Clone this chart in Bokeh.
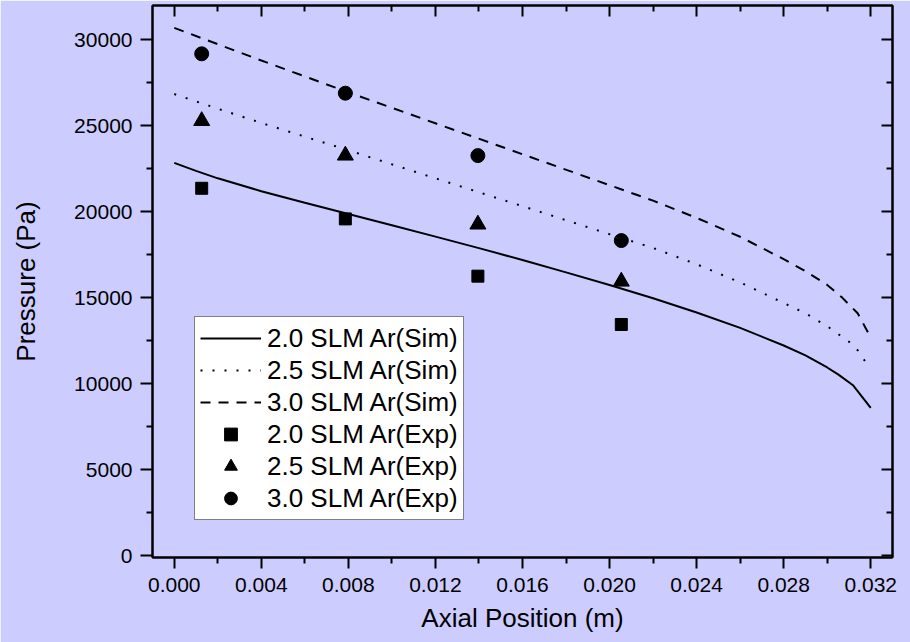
from bokeh.plotting import figure
from bokeh.models import (LinearAxis, FixedTicker, NumeralTickFormatter, Range1d,
                          Legend, LegendItem, CustomLabelingPolicy)
from bokeh.embed import file_html
from bokeh.resources import INLINE

# Simulated axial pressure profiles (m, Pa)
x_sim_20 = [0.0, 0.001, 0.002, 0.004, 0.006, 0.008, 0.010, 0.012, 0.014, 0.016, 0.018,
            0.020, 0.022, 0.024, 0.026, 0.028, 0.029, 0.030, 0.0305, 0.0312, 0.032]
p_sim_20 = [22850, 22380, 21950, 21200, 20530, 19870, 19220, 18560, 17890, 17200, 16480,
            15750, 14980, 14150, 13250, 12230, 11650, 10950, 10550, 9900, 8600]

x_sim_25 = [0.0, 0.002, 0.004, 0.008, 0.012, 0.016, 0.020, 0.022, 0.024, 0.026, 0.028,
            0.029, 0.030, 0.031, 0.0314, 0.0318]
p_sim_25 = [26850, 26000, 25170, 23580, 21950, 20330, 18700, 17900, 16950, 15900, 14700,
            14100, 13350, 12450, 11950, 11200]

x_sim_30 = [0.0, 0.002, 0.004, 0.008, 0.012, 0.016, 0.020, 0.022, 0.024, 0.026, 0.028,
            0.029, 0.030, 0.0307, 0.0314, 0.032]
p_sim_30 = [30700, 29750, 28800, 26950, 25150, 23350, 21550, 20650, 19650, 18550, 17250,
            16550, 15750, 15000, 14100, 12700]

# Measured pressures
x_exp = [0.00126, 0.00786, 0.01395, 0.02054]
p_exp_20 = [21370, 19590, 16260, 13450]
p_exp_25 = [25290, 23280, 19270, 15950]
p_exp_30 = [29190, 26900, 23270, 18330]

x_major = [0.000, 0.004, 0.008, 0.012, 0.016, 0.020, 0.024, 0.028, 0.032]
y_major = [0, 5000, 10000, 15000, 20000, 25000, 30000]

BG = "#ccccff"
FONT = "Liberation Sans"

x_minor = [round(t + 0.002, 4) for t in [-0.004] + x_major]
y_minor = [t + 2500 for t in y_major]

p = figure(width=910, height=642, output_backend="svg", toolbar_location=None,
           x_range=Range1d(-0.001, 0.033), y_range=Range1d(-100, 32000),
           min_border_left=152, min_border_right=18, min_border_top=5,
           min_border_bottom=85)
p.background_fill_color = BG
p.border_fill_color = BG
p.outline_line_color = "black"
p.outline_line_width = 2
p.xgrid.visible = False
p.ygrid.visible = False

xt = FixedTicker(ticks=x_major, minor_ticks=x_minor)
yt = FixedTicker(ticks=y_major, minor_ticks=y_minor)


def style(ax, inward):
    ax.axis_line_width = 2
    ax.major_tick_line_width = 2
    ax.minor_tick_line_width = 2
    if inward:
        # mirror axis: inward ticks only, no labels
        ax.major_tick_in, ax.major_tick_out = 11, 0
        ax.minor_tick_in, ax.minor_tick_out = 6, 0
        ax.major_label_policy = CustomLabelingPolicy(code="return []")
        ax.major_label_text_font_size = "0px"
        ax.major_label_standoff = 0
    else:
        ax.major_tick_in, ax.major_tick_out = 0, 11
        ax.minor_tick_in, ax.minor_tick_out = 0, 6
        ax.major_label_text_font = FONT
        ax.major_label_text_font_size = "21px"
        ax.major_label_text_color = "black"
        ax.axis_label_text_font = FONT
        ax.axis_label_text_font_size = "26px"
        ax.axis_label_text_font_style = "normal"
        ax.axis_label_text_color = "black"


xa = p.xaxis[0]
xa.ticker = xt
xa.formatter = NumeralTickFormatter(format="0.000")
xa.axis_label = "Axial Position (m)"
style(xa, False)
xa.major_label_standoff = 9
xa.axis_label_standoff = 8

ya = p.yaxis[0]
ya.ticker = yt
ya.formatter = NumeralTickFormatter(format="0")
ya.axis_label = "Pressure (Pa)"
style(ya, False)
ya.major_tick_out = 12
ya.major_label_standoff = 8
ya.axis_label_standoff = 30

top = LinearAxis(ticker=xt)
style(top, True)
p.add_layout(top, "above")
right = LinearAxis(ticker=yt)
style(right, True)
p.add_layout(right, "right")

r1 = p.line(x_sim_20, p_sim_20, line_color="black", line_width=2)
r2 = p.line(x_sim_25, p_sim_25, line_color="black", line_width=2, line_dash="2 10")
r3 = p.line(x_sim_30, p_sim_30, line_color="black", line_width=2, line_dash="10 8")
r4 = p.scatter(x_exp, p_exp_20, marker="square", size=12, color="black")
r5 = p.scatter(x_exp, p_exp_25, marker="triangle", size=16, color="black")
r6 = p.scatter(x_exp, p_exp_30, marker="circle", size=14, color="black")

legend = Legend(items=[
    LegendItem(label="2.0 SLM Ar(Sim)", renderers=[r1]),
    LegendItem(label="2.5 SLM Ar(Sim)", renderers=[r2]),
    LegendItem(label="3.0 SLM Ar(Sim)", renderers=[r3]),
    LegendItem(label="2.0 SLM Ar(Exp)", renderers=[r4]),
    LegendItem(label="2.5 SLM Ar(Exp)", renderers=[r5]),
    LegendItem(label="3.0 SLM Ar(Exp)", renderers=[r6]),
], location=(42, 37))
legend.background_fill_color = "white"
legend.background_fill_alpha = 1
legend.border_line_color = "black"
legend.border_line_width = 1
legend.label_text_font = FONT
legend.label_text_font_size = "26px"
legend.label_text_color = "black"
legend.padding = 5
legend.margin = 0
legend.spacing = 0
legend.glyph_width = 61
legend.glyph_height = 32
legend.label_height = 32
legend.label_standoff = 6
p.add_layout(legend, "center")

open("out.html", "w").write(file_html(p, INLINE))
